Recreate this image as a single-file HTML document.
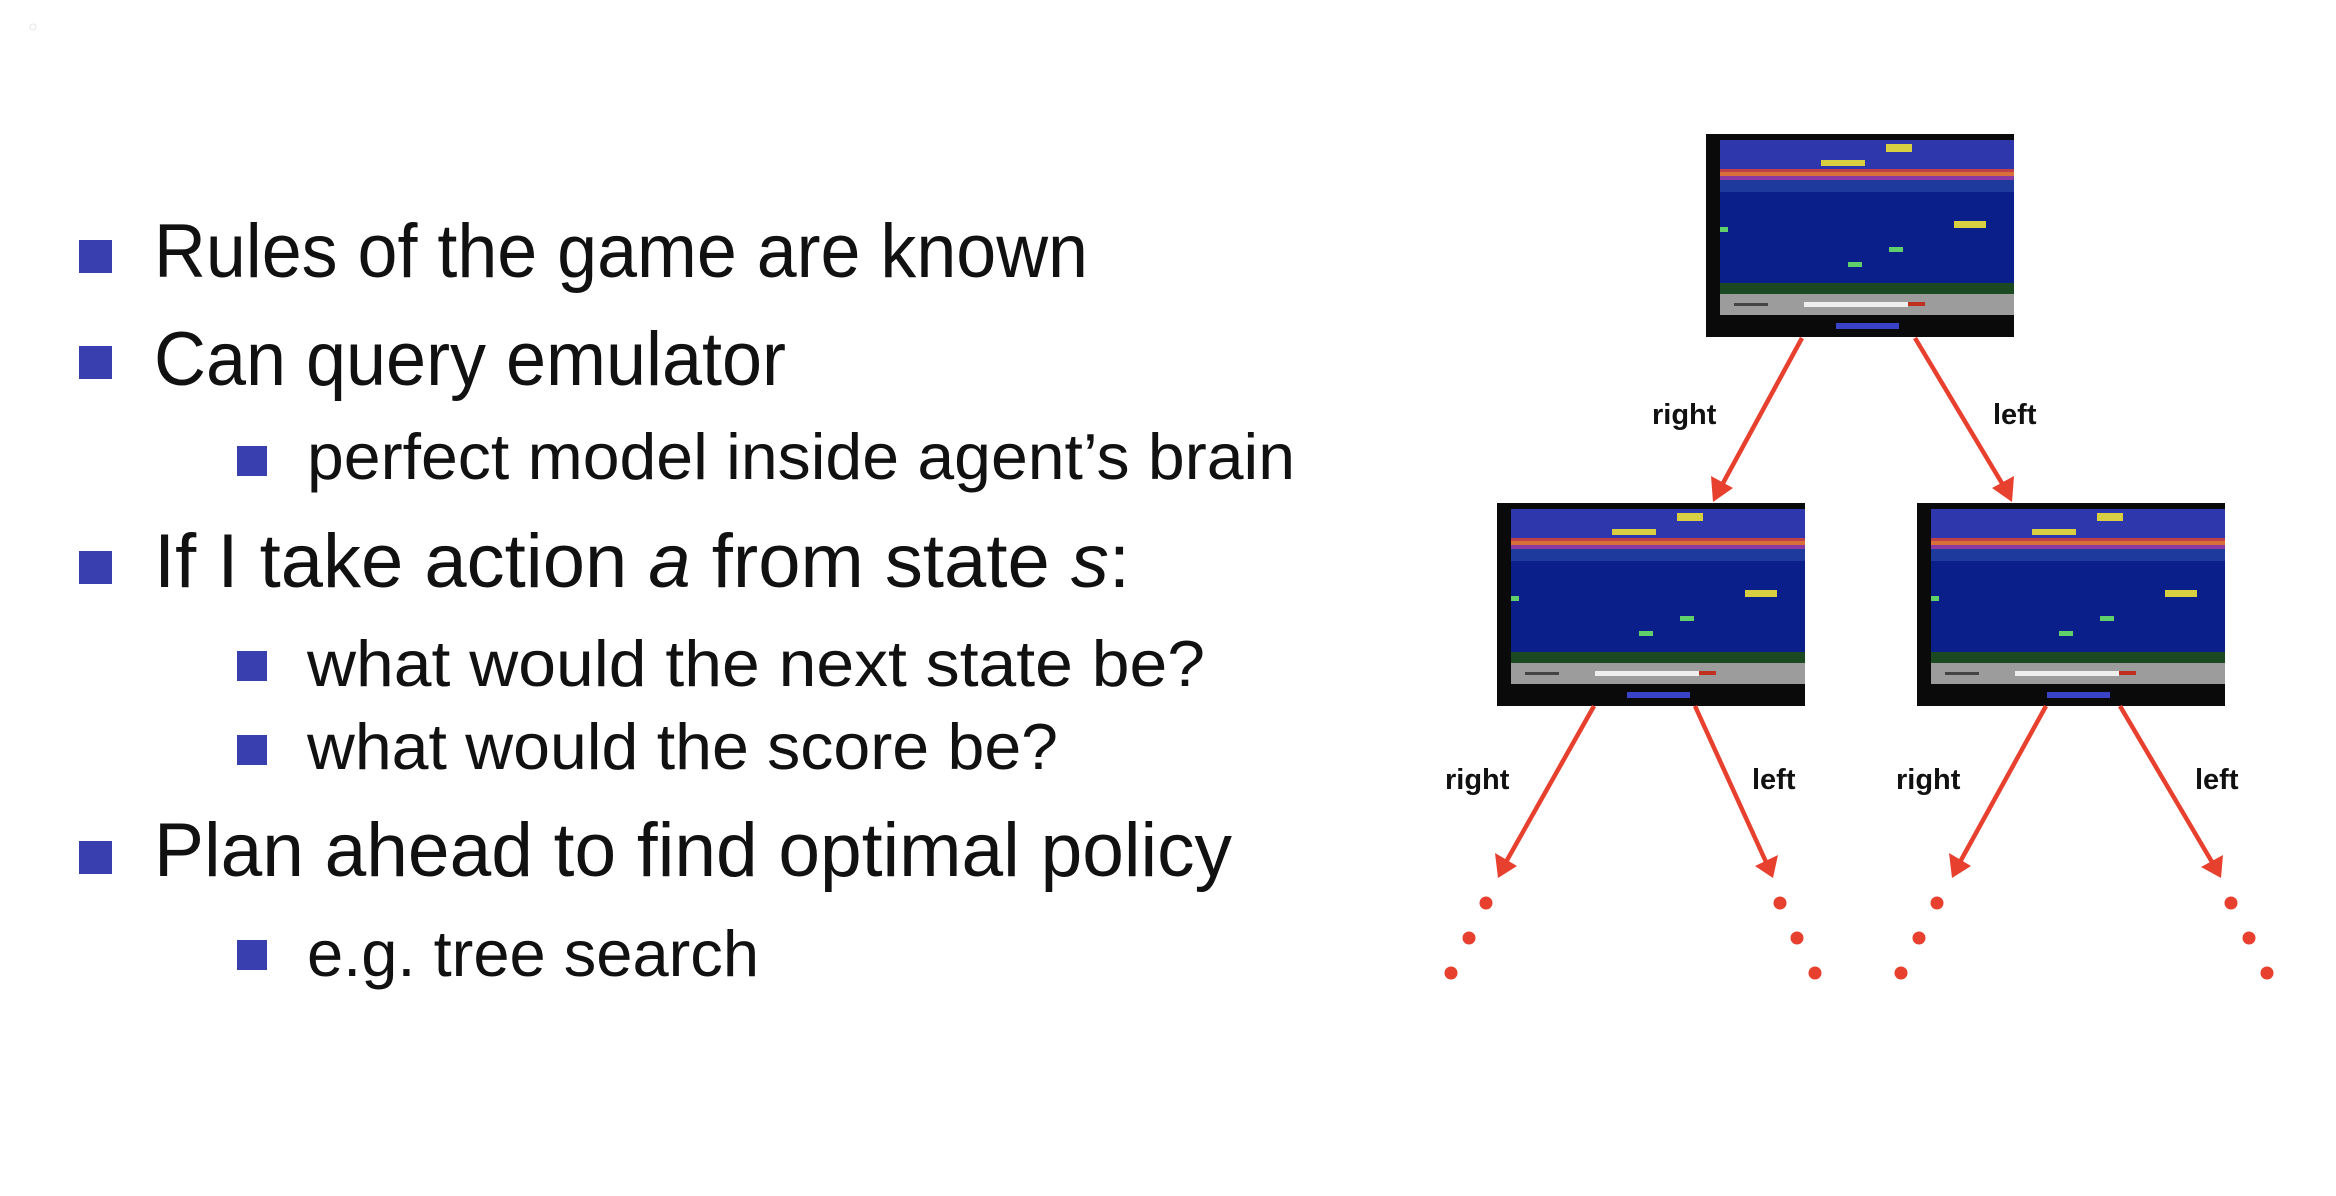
<!DOCTYPE html>
<html><head><meta charset="utf-8"><style>
html,body{margin:0;padding:0;background:#fff;}
svg{display:block;}
</style></head><body>
<svg width="2336" height="1196" viewBox="0 0 2336 1196" xmlns="http://www.w3.org/2000/svg">
<defs>
<g id="scr">
<rect x="0" y="0" width="308" height="203" fill="#0a0a0a"/>
<rect x="14" y="6" width="294" height="29" fill="#2f37ad"/>
<rect x="14" y="35" width="294" height="3" fill="#c0404a"/>
<rect x="14" y="38" width="294" height="4" fill="#d8703a"/>
<rect x="14" y="42" width="294" height="4" fill="#8a3aa0"/>
<rect x="14" y="46" width="294" height="12" fill="#1e3a9c"/>
<rect x="14" y="58" width="294" height="91" fill="#0a1f8a"/>
<rect x="14" y="149" width="294" height="11" fill="#1b4a22"/>
<rect x="14" y="160" width="294" height="21" fill="#9c9c9c"/>
<rect x="28" y="169" width="34" height="3" fill="#444"/>
<rect x="98" y="168" width="104" height="5" fill="#eee"/>
<rect x="202" y="168" width="17" height="4" fill="#c03020"/>
<rect x="115" y="26" width="44" height="6" fill="#d8d040"/>
<rect x="180" y="10" width="26" height="8" fill="#d8d040"/>
<rect x="248" y="87" width="32" height="7" fill="#d8d040"/>
<rect x="14" y="93" width="8" height="5" fill="#5fd06a"/>
<rect x="183" y="113" width="14" height="5" fill="#5fd06a"/>
<rect x="142" y="128" width="14" height="5" fill="#5fd06a"/>
<rect x="130" y="189" width="63" height="6" fill="#3a42c8"/>
</g>
</defs>

<circle cx="33" cy="27" r="3" fill="none" stroke="#e6e6e6" stroke-width="1"/>

<g fill="#3a3fb0">
<rect x="79" y="240" width="33" height="33"/>
<rect x="79" y="346" width="33" height="33"/>
<rect x="79" y="551" width="33" height="33"/>
<rect x="79" y="841" width="33" height="33"/>
<rect x="237" y="446" width="30" height="30"/>
<rect x="237" y="651" width="30" height="30"/>
<rect x="237" y="735" width="30" height="30"/>
<rect x="237" y="940" width="30" height="30"/>
</g>
<g font-family="Liberation Sans, sans-serif" fill="#111">
<text x="154" y="277" font-size="76" textLength="934" lengthAdjust="spacingAndGlyphs">Rules of the game are known</text>
<text x="154" y="385" font-size="76" textLength="632" lengthAdjust="spacingAndGlyphs">Can query emulator</text>
<text x="307" y="479" font-size="65" textLength="988" lengthAdjust="spacingAndGlyphs">perfect model inside agent’s brain</text>
<text x="154" y="587" font-size="76" textLength="976" lengthAdjust="spacingAndGlyphs">If I take action <tspan font-style="italic">a</tspan> from state <tspan font-style="italic">s</tspan>:</text>
<text x="307" y="686" font-size="65" textLength="898" lengthAdjust="spacingAndGlyphs">what would the next state be?</text>
<text x="307" y="769" font-size="65" textLength="751" lengthAdjust="spacingAndGlyphs">what would the score be?</text>
<text x="154" y="876" font-size="76" textLength="1078" lengthAdjust="spacingAndGlyphs">Plan ahead to find optimal policy</text>
<text x="307" y="976" font-size="65" textLength="452" lengthAdjust="spacingAndGlyphs">e.g.  tree search</text>
</g>

<use href="#scr" x="1706" y="134"/>
<use href="#scr" x="1497" y="503"/>
<use href="#scr" x="1917" y="503"/>

<g stroke="#e8402f" stroke-width="4.5" fill="none">
<line x1="1802" y1="338" x2="1722" y2="485"/>
<line x1="1915" y1="338" x2="2003" y2="485"/>
<line x1="1594" y1="706" x2="1506" y2="862"/>
<line x1="1695" y1="706" x2="1766" y2="862"/>
<line x1="2046" y1="706" x2="1960" y2="862"/>
<line x1="2120" y1="706" x2="2212" y2="862"/>
</g>
<g fill="#e8402f">
<polygon points="1713,502 1711,476 1733,488"/>
<polygon points="2012,502 1992,488 2014,476"/>
<polygon points="1498,878 1495,853 1517,866"/>
<polygon points="1773,878 1755,866 1778,855"/>
<polygon points="1952,878 1949,853 1971,866"/>
<polygon points="2221,878 2201,867 2223,855"/>
<circle cx="1486" cy="903" r="6.5"/><circle cx="1469" cy="938" r="6.5"/><circle cx="1451" cy="973" r="6.5"/>
<circle cx="1780" cy="903" r="6.5"/><circle cx="1797" cy="938" r="6.5"/><circle cx="1815" cy="973" r="6.5"/>
<circle cx="1937" cy="903" r="6.5"/><circle cx="1919" cy="938" r="6.5"/><circle cx="1901" cy="973" r="6.5"/>
<circle cx="2231" cy="903" r="6.5"/><circle cx="2249" cy="938" r="6.5"/><circle cx="2267" cy="973" r="6.5"/>
</g>
<g font-family="Liberation Sans, sans-serif" font-weight="bold" font-size="29" fill="#111">
<text x="1652" y="424">right</text>
<text x="1993" y="424">left</text>
<text x="1445" y="789">right</text>
<text x="1752" y="789">left</text>
<text x="1896" y="789">right</text>
<text x="2195" y="789">left</text>
</g>
</svg>
</body></html>
